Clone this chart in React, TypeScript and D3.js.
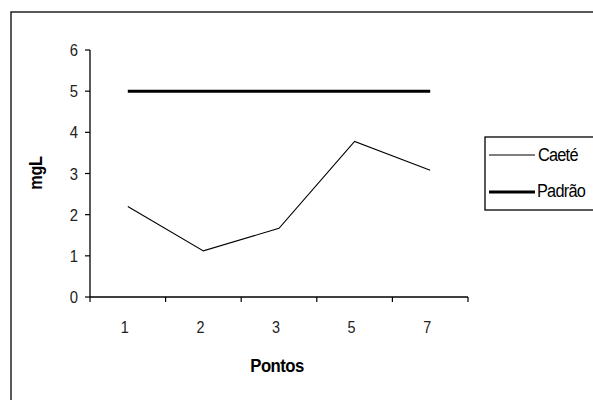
import React from "react";
import * as d3 from "d3";

const categories = ["1", "2", "3", "5", "7"];
const caete = [2.2, 1.12, 1.67, 3.78, 3.08];
const padrao = [5, 5, 5, 5, 5];
const yTicks = [0, 1, 2, 3, 4, 5, 6];
const seriesNames = ["Caeté", "Padrão"];

export default function App() {
  const x = d3.scaleBand<string>().domain(categories).range([90, 468]);
  const y = d3.scaleLinear().domain([0, 6]).range([297, 50]);
  const cx = (c: string) => (x(c) as number) + x.bandwidth() / 2;
  const line = d3
    .line<number>()
    .x((_, i) => cx(categories[i]))
    .y((d) => y(d));
  const font = "'Liberation Sans', Arial, sans-serif";
  return (
    <svg
      width={593}
      height={400}
      style={{ position: "absolute", left: 0, top: 0, background: "#fff" }}
    >
      <rect x={11} y={12} width={700} height={500} fill="#fff" stroke="#000" strokeWidth={1.3} />
      {/* y axis */}
      <line x1={90} x2={90} y1={y(6)} y2={y(0)} stroke="#000" strokeWidth={1.3} />
      {yTicks.map((t) => (
        <g key={t}>
          <line x1={85} x2={90} y1={y(t)} y2={y(t)} stroke="#000" strokeWidth={1.2} />
          <text x={0} y={0} fontSize={16.5} fontFamily={font} fill="#222" textAnchor="end" transform={`translate(78,${y(t) + 6}) scale(0.9,1)`}>
            {t}
          </text>
        </g>
      ))}
      {/* x axis */}
      <line x1={90} x2={468} y1={y(0)} y2={y(0)} stroke="#000" strokeWidth={1.3} />
      {categories.map((c) => (
        <line key={"t" + c} x1={x(c)} x2={x(c)} y1={y(0)} y2={y(0) + 5} stroke="#000" strokeWidth={1.2} />
      ))}
      <line x1={468} x2={468} y1={y(0)} y2={y(0) + 5} stroke="#000" strokeWidth={1.2} />
      {categories.map((c) => (
        <text key={"l" + c} x={0} y={0} fontSize={16} fontFamily={font} fill="#222" textAnchor="middle" transform={`translate(${cx(c) - 3},333) scale(0.9,1)`}>
          {c}
        </text>
      ))}
      <text x={0} y={0} fontSize={19} fontWeight="bold" fontFamily={font} textAnchor="middle" letterSpacing={-0.6} transform="translate(277,372) scale(0.88,1)">
        Pontos
      </text>
      <text
        transform={`translate(42,173) rotate(-90) scale(0.9,1)`}
        fontSize={18}
        fontWeight="bold"
        fontFamily={font}
        textAnchor="middle"
        letterSpacing={-0.3}
      >
        mgL
      </text>
      {/* series */}
      <path d={line(padrao) as string} fill="none" stroke="#000" strokeWidth={3} />
      <path d={line(caete) as string} fill="none" stroke="#000" strokeWidth={1.1} />
      {/* legend */}
      <rect x={485} y={137} width={130} height={73} fill="#fff" stroke="#000" strokeWidth={1.3} />
      <line x1={489} x2={535} y1={155} y2={155} stroke="#000" strokeWidth={1.1} />
      <line x1={489} x2={535} y1={192} y2={192} stroke="#000" strokeWidth={3} />
      <text x={0} y={0} fontSize={19} fontFamily={font} letterSpacing={-0.9} transform="translate(538,161) scale(0.86,1)">
        {seriesNames[0]}
      </text>
      <text x={0} y={0} fontSize={19} fontFamily={font} letterSpacing={-0.9} transform="translate(537,197) scale(0.86,1)">
        {seriesNames[1]}
      </text>
    </svg>
  );
}
